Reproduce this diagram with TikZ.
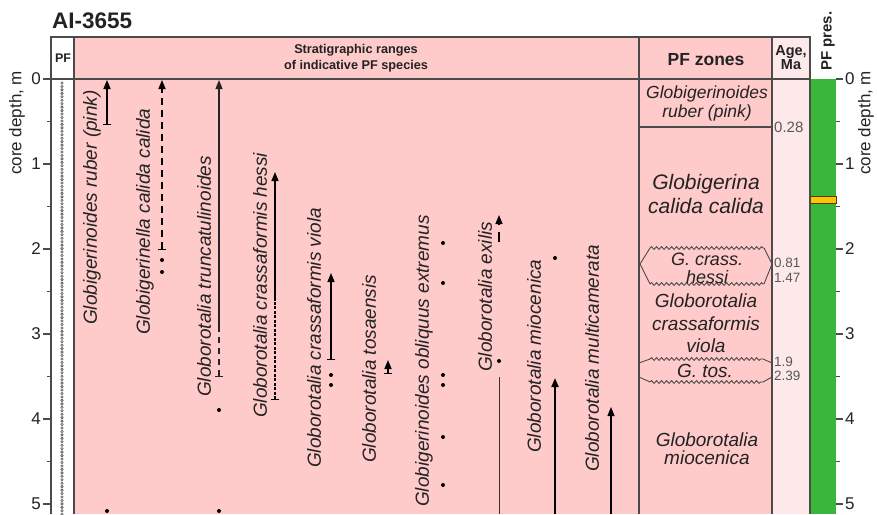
\documentclass[tikz,border=0pt]{standalone}
\usepackage{fontspec}
\setmainfont{Liberation Sans}
\usetikzlibrary{arrows.meta,decorations.pathmorphing}
\definecolor{pfpink}{RGB}{255,202,202}
\definecolor{agepink}{RGB}{253,233,233}
\definecolor{pfgreen}{RGB}{58,182,58}
\definecolor{pfyellow}{RGB}{250,198,0}
\definecolor{bordc}{RGB}{75,75,75}
\definecolor{txtc}{RGB}{35,35,35}
\tikzset{
  bord/.style={draw=bordc, line width=1.1pt},
  wave/.style={draw=bordc, line width=0.9pt, decorate, decoration={snake, amplitude=1.4pt, segment length=5pt}},
  splab/.style={font=\fontsize{19}{22}\selectfont\itshape, rotate=90, anchor=west, inner sep=0pt, text=txtc},
  zlab/.style={font=\fontsize{19}{22}\selectfont\itshape, anchor=base, inner sep=0pt, text=txtc},
  agelab/.style={font=\fontsize{13.5}{15}\selectfont, anchor=base west, inner sep=0pt, text=black!65},
  hdr/.style={font=\bfseries, inner sep=0pt, text=txtc, align=center},
  axlab/.style={font=\fontsize{17}{20}\selectfont, inner sep=0pt, text=txtc},
  rng/.style={line width=1.5pt, black},
  uptip/.style={-{Stealth[length=9pt,width=7pt,inset=0pt]}},
  bartip/.style={{Bar[width=8pt]}-},
  bothtip/.style={{Bar[width=8pt]}-{Stealth[length=9pt,width=7pt,inset=0pt]}},
  spdot/.style={fill=black},
  pfdot/.style={fill=gray!35, draw=gray!75!black, line width=0.6pt},
}
\begin{document}
\begin{tikzpicture}[x=1pt,y=-1pt]
\useasboundingbox (0,0) rectangle (877,514);
\fill[white] (0,0) rectangle (877,514);
% backgrounds
\fill[pfpink] (74,37) rectangle (772,514);
\fill[agepink] (772,37) rectangle (810,514);
\fill[pfgreen] (810,79) rectangle (836,514);
\filldraw[fill=pfyellow, draw=black!55!brown, line width=0.7pt] (810,196) rectangle (836,203);
% frame
\draw[bord] (51,514) -- (51,37) -- (810,37) -- (810,514);
\draw[bord] (74,37) -- (74,514);
\draw[bord] (639,37) -- (639,514);
\draw[bord] (772,37) -- (772,514);
\draw[bord] (43,79) -- (810,79);
\draw[bord] (639,127) -- (772,127);
% ticks and depth labels
\foreach \d in {0,...,5} {
  \draw[bord] (43,{79+85*\d}) -- (51,{79+85*\d});
  \draw[bord] (836,{79+85*\d}) -- (843,{79+85*\d});
  \node[axlab, anchor=east] (dl\d) at (41,{79+85*\d}) {\d};
  \node[axlab, anchor=west] (dr\d) at (845,{79+85*\d}) {\d};
}
\foreach \d in {0.5,1.5,2.5,3.5,4.5} {
  \draw[bord] (47,{79+85*\d}) -- (51,{79+85*\d});
  \draw[bord] (836,{79+85*\d}) -- (840,{79+85*\d});
}
\node[axlab, rotate=90, anchor=west] (cdl) at (17,175) {core depth, m};
\node[axlab, rotate=90, anchor=west] (cdr) at (866,175) {core depth, m};
% PF dots column
\foreach \i in {0,...,125} \filldraw[pfdot] (62,{83+3.45*\i}) circle (1.25pt);
% header
\node[font=\fontsize{22.5}{25}\selectfont\bfseries, anchor=base west, inner sep=0pt, text=txtc] (title) at (52,28) {AI-3655};
\node[hdr, font=\fontsize{12.5}{14}\selectfont\bfseries] (hpf) at (63,58) {PF};
\node[hdr, font=\fontsize{12.7}{15.5}\selectfont\bfseries] (hstrat) at (356,58) {Stratigraphic ranges\\of indicative PF species};
\node[hdr, font=\fontsize{17.5}{20}\selectfont\bfseries, anchor=base] (hzones) at (706,65) {PF zones};
\node[hdr, font=\fontsize{14.5}{14}\selectfont\bfseries, anchor=base] (hage) at (791,55) {Age,};
\node[hdr, font=\fontsize{14.5}{14}\selectfont\bfseries, anchor=base] (hma) at (791,69) {Ma};
\node[hdr, font=\fontsize{15}{18}\selectfont\bfseries, rotate=90, anchor=west] (hpres) at (828,71) {PF pres.};
% species labels
\node[splab] (s1) at (92,325) {Globigerinoides ruber (pink)};
\node[splab] (s2) at (145,335) {Globigerinella calida calida};
\node[splab] (s3) at (204,397) {Globorotalia truncatulinoides};
\node[splab] (s4) at (260,418) {Globorotalia crassaformis hessi};
\node[splab] (s5) at (314,468) {Globorotalia crassaformis viola};
\node[splab] (s6) at (369,463) {Globorotalia tosaensis};
\node[splab] (s7) at (424,507) {Globigerinoides obliquus extremus};
\node[splab] (s8) at (485,372) {Globorotalia exilis};
\node[splab] (s9) at (534,453) {Globorotalia miocenica};
\node[splab] (s10) at (592,472) {Globorotalia multicamerata};
% ranges
% 1 ruber pink
\draw[rng, bothtip] (107,125) -- (107,80);
\fill[spdot] (107,511) circle (2pt);
% 2 calida calida
\draw[rng, dash pattern=on 7pt off 5pt, bothtip] (162,250) -- (162,80);
\fill[spdot] (162,260) circle (2pt);
\fill[spdot] (162,272) circle (2pt);
% 3 truncatulinoides
\draw[line width=1.1pt, black!85, uptip] (219,327) -- (219,80);
\draw[line width=1.1pt, black!85, dash pattern=on 6pt off 5pt, bartip] (219,377) -- (219,327);
\fill[spdot] (219,410) circle (2pt);
\fill[spdot] (219,511) circle (2pt);
% 4 crassaformis hessi
\draw[rng, uptip] (275,300) -- (275,172);
\draw[line width=1.3pt, dash pattern=on 3pt off 1.5pt, bartip] (275,400) -- (275,300);
% 5 crassaformis viola
\draw[rng, bothtip] (331,360) -- (331,273);
\fill[spdot] (331,375) circle (2pt);
\fill[spdot] (331,385) circle (2pt);
% 6 tosaensis
\draw[rng, bothtip] (388,374) -- (388,360);
% 7 obliquus extremus
\foreach \yy in {243,283,375,385,437,485} \fill[spdot] (443,\yy) circle (2pt);
% 8 exilis
\draw[rng, dash pattern=on 10pt off 7pt, uptip] (499,242) -- (499,215);
\fill[spdot] (499,361) circle (2pt);
\draw[line width=1pt, black!80] (499,377) -- (499,514);
% 9 miocenica
\fill[spdot] (555,258) circle (2pt);
\draw[line width=2pt, uptip] (555,514) -- (555,378);
% 10 multicamerata
\draw[line width=1.3pt, uptip] (611,514) -- (611,407);
% zone boundaries (hessi)
\draw[wave] (650,248) -- (764,248);
\draw[wave] (650,284) -- (764,284);
\draw[draw=bordc, line width=0.9pt] (650,248) -- (640,264) -- (650,284);
\draw[draw=bordc, line width=0.9pt] (764,248) -- (772,264) -- (764,284);
% zone boundaries (tosaensis)
\draw[wave] (650,359) -- (763,359);
\draw[wave] (650,382) -- (763,382);
\draw[draw=bordc, line width=0.9pt] (639,363) -- (650,359);
\draw[draw=bordc, line width=0.9pt] (763,359) -- (772,363);
\draw[draw=bordc, line width=0.9pt] (639,377) -- (650,382);
\draw[draw=bordc, line width=0.9pt] (763,382) -- (772,377);
% zone labels
\node[zlab, font=\fontsize{17.5}{20}\selectfont\itshape] (z1a) at (707,98) {Globigerinoides};
\node[zlab, font=\fontsize{17.5}{20}\selectfont\itshape] (z1b) at (707,117) {ruber (pink)};
\node[zlab, font=\fontsize{21}{24}\selectfont\itshape] (z2a) at (706,189) {Globigerina};
\node[zlab, font=\fontsize{21}{24}\selectfont\itshape] (z2b) at (706,213) {calida calida};
\node[zlab, font=\fontsize{18}{20}\selectfont\itshape] (z3a) at (707,265) {G. crass.};
\node[zlab, font=\fontsize{18}{20}\selectfont\itshape] (z3b) at (707,283) {hessi};
\node[zlab] (z4a) at (706,307) {Globorotalia};
\node[zlab] (z4b) at (706,330) {crassaformis};
\node[zlab] (z4c) at (706,352) {viola};
\node[zlab] (z5) at (705,377) {G. tos.};
\node[zlab] (z6a) at (707,446) {Globorotalia};
\node[zlab] (z6b) at (707,464) {miocenica};
% ages
\node[agelab, font=\fontsize{15}{17}\selectfont] (a1) at (774,132) {0.28};
\node[agelab] (a2) at (774,267) {0.81};
\node[agelab] (a3) at (774,282) {1.47};
\node[agelab] (a4) at (774,366) {1.9};
\node[agelab] (a5) at (774,380) {2.39};
\end{tikzpicture}
\end{document}
